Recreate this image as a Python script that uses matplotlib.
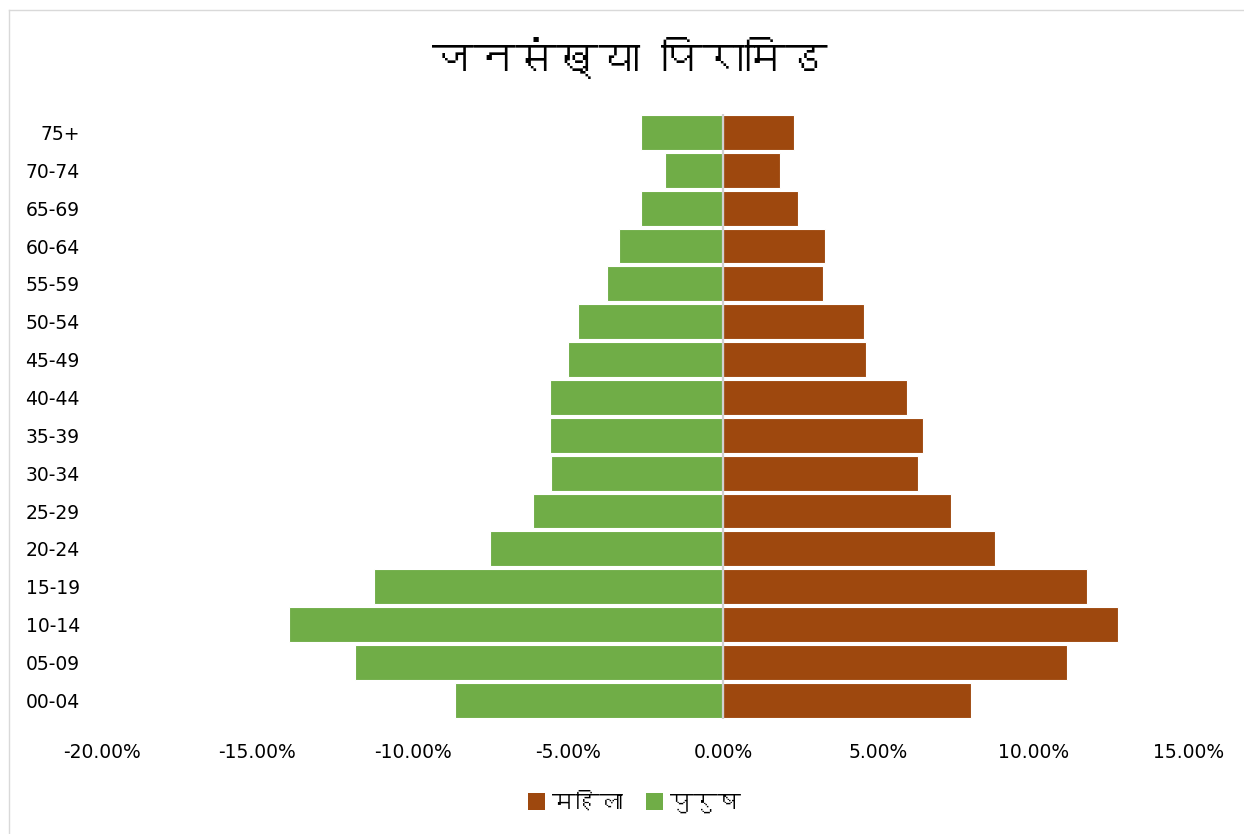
import numpy as np
import matplotlib
matplotlib.use("Agg")
import matplotlib.pyplot as plt
from matplotlib import font_manager
from matplotlib.ft2font import FT2Font
from matplotlib.patches import Patch
from matplotlib.lines import Line2D
from matplotlib.ticker import FuncFormatter

# data (percent of population)
age_groups = ["00-04", "05-09", "10-14", "15-19", "20-24", "25-29", "30-34", "35-39",
              "40-44", "45-49", "50-54", "55-59", "60-64", "65-69", "70-74", "75+"]
male = [8.62, 11.86, 13.98, 11.25, 7.51, 6.13, 5.53, 5.58,
        5.56, 5.00, 4.66, 3.74, 3.34, 2.63, 1.86, 2.65]
female = [7.98, 11.06, 12.70, 11.72, 8.74, 7.34, 6.26, 6.44,
          5.93, 4.59, 4.52, 3.21, 3.28, 2.41, 1.84, 2.27]
xticks = [-20, -15, -10, -5, 0, 5, 10, 15]
title = "जनसंख्या पिरामिड"
female_label = "महिला"
male_label = "पुरुष"

c_female = "#9E480E"
c_male = "#70AD47"


def find_font(cp):
    # first installed font that has the code point
    for f in font_manager.fontManager.ttflist:
        try:
            if cp in FT2Font(f.fname).get_charmap():
                return f.name
        except Exception:
            pass
    return None


deva = find_font(0x091C)
deva_family = [deva, "DejaVu Sans"] if deva else ["DejaVu Sans"]
plt.rcParams["font.family"] = ["DejaVu Sans"]

fig = plt.figure(figsize=(12.44, 8.34), dpi=100)
ax = fig.add_axes([0.082, 0.1376, 0.8738, 0.7263])

y = np.arange(len(age_groups))
ax.barh(y, [-v for v in male], height=0.92, color=c_male, edgecolor="white", lw=0.8, zorder=2)
ax.barh(y, female, height=0.92, color=c_female, edgecolor="white", lw=0.8, zorder=2)
ax.axvline(0, color="#d0d0d0", lw=1.6, zorder=3)

ax.set_xlim(-20, 15)
ax.set_ylim(-0.5, len(age_groups) - 0.5)
ax.set_xticks(xticks)
ax.xaxis.set_major_formatter(FuncFormatter(lambda v, p: f"{v:.2f}%"))
ax.set_yticks(y)
ax.set_yticklabels(age_groups)
ax.tick_params(axis="x", length=0, pad=17, labelsize=13.5, colors="#000000")
ax.tick_params(axis="y", length=0, pad=16, labelsize=13.5, colors="#000000")
for s in ax.spines.values():
    s.set_visible(False)

fig.text(0.506, 1 - 58 / 834, title, ha="center", va="center", fontsize=30, family=deva_family)

handles = [Patch(facecolor=c_female, edgecolor="none"), Patch(facecolor=c_male, edgecolor="none")]
leg = fig.legend(handles, [female_label, male_label], loc="center", bbox_to_anchor=(0.51, 1 - 803 / 834),
                 ncol=2, frameon=False, handlelength=0.7, handleheight=0.7, handletextpad=0.3,
                 columnspacing=1.0, prop={"family": deva_family, "size": 17})

# chart area border (left and top edges visible)
fig.add_artist(Line2D([8.5 / 1244, 8.5 / 1244], [0, 1 - 10 / 834], transform=fig.transFigure, color="#d9d9d9", lw=1))
fig.add_artist(Line2D([8.5 / 1244, 1], [1 - 10 / 834, 1 - 10 / 834], transform=fig.transFigure, color="#d9d9d9", lw=1))

fig.savefig("out.png", dpi=100)
